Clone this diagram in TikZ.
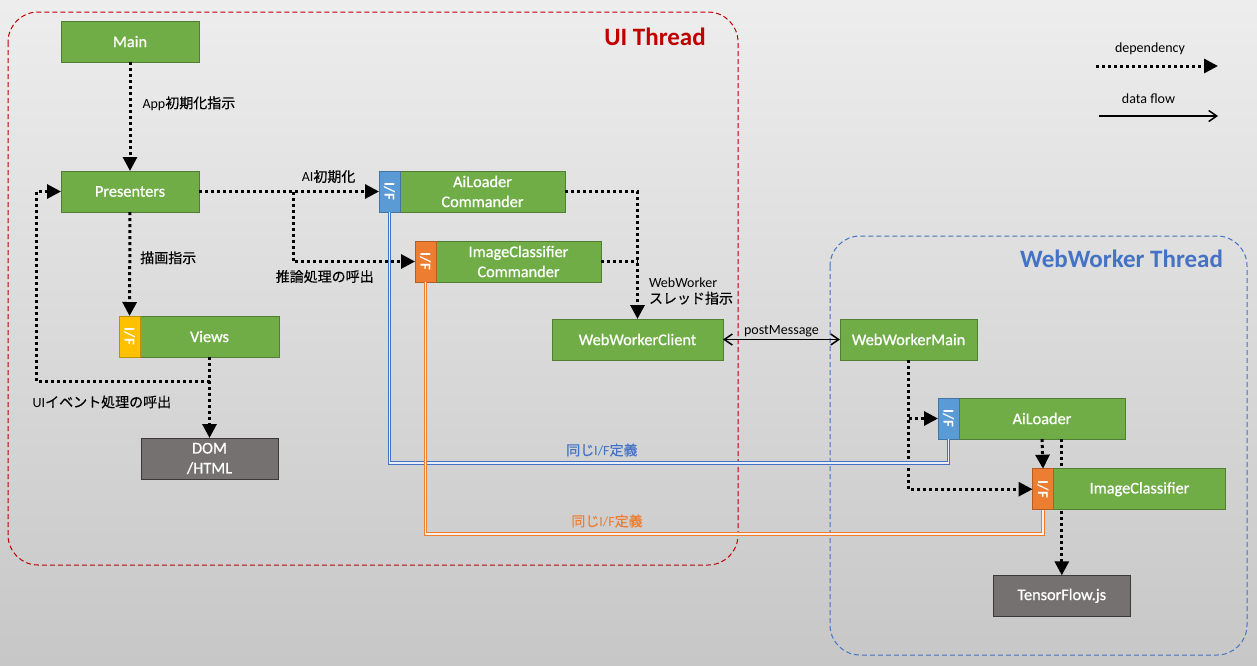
\documentclass[tikz,border=0pt]{standalone}
\usepackage{fontspec}
\usepackage{graphicx}
\setmainfont{Carlito}
\newfontfamily\jpfont[FakeBold=0.4]{Noto Sans CJK JP}
\newfontfamily\boxfont[FakeBold=0.8]{Carlito}
\newcommand{\ja}[1]{{\jpfont #1}}
\usetikzlibrary{arrows.meta,positioning}
\definecolor{compgreen}{HTML}{70AD47}
\definecolor{compedge}{HTML}{507E32}
\definecolor{libgray}{HTML}{767171}
\definecolor{libedge}{HTML}{3A3838}
\definecolor{ifblue}{HTML}{5B9BD5}
\definecolor{iforange}{HTML}{ED7D31}
\definecolor{ifyellow}{HTML}{FFC000}
\definecolor{uired}{HTML}{C00000}
\definecolor{wwblue}{HTML}{4472C4}
\tikzset{
	comp/.style={draw=compedge,fill=compgreen,text=white,line width=1pt,outer sep=0pt,minimum height=41pt,inner sep=0pt,align=center,font=\boxfont\fontsize{16.3}{20}\selectfont},
	lib/.style={comp,draw=libedge,fill=libgray},
	iface/.style={draw=#1!75!black,fill=#1,text=white,line width=1pt,outer sep=0pt,minimum width=21pt,minimum height=41pt,inner sep=0pt,font=\bfseries\fontsize{15}{15}\selectfont},
	dep/.style={line width=3pt,dash pattern=on 3pt off 3pt,-{Triangle[length=14pt,width=14pt]}},
	depline/.style={line width=3pt,dash pattern=on 3pt off 3pt},
	flowtip/.tip={Straight Barb[length=8pt,width=11pt]},
	flow/.style={line width=1.5pt,-flowtip},
	samedef/.style={draw=#1,line width=1pt,double=#1!12,double distance=1.5pt},
	lbl/.style={font=\fontsize{14}{16.5}\selectfont,inner sep=2pt},
	thread/.style={line width=1pt,dash pattern=on 5pt off 3pt,rounded corners=30pt},
	threadtitle/.style={font=\bfseries\fontsize{25}{28}\selectfont}
}
\begin{document}
\begin{tikzpicture}[x=1pt,y=-1pt]
	\useasboundingbox (0,0) rectangle (1257,665);
	\fill[top color=black!7,bottom color=black!22] (0,0) rectangle (1257,665);
	\draw[thread,draw=uired] (8,12) rectangle (738,565);
	\draw[thread,draw=wwblue] (830,236) rectangle (1247,655);
	\node[threadtitle,text=uired] (uititle) at (655,37) {UI Thread};
	\node[threadtitle,text=wwblue] (wwtitle) at (1121.5,259) {WebWorker Thread};
	% UI thread
	\node[comp,minimum width=138pt] (main) at (130,41.5) {Main};
	\node[comp,minimum width=138pt] (pres) at (130,191.5) {Presenters};
	\node[comp,minimum width=139pt] (views) at (209.5,336.5) {Views};
	\node[iface=ifyellow,left=0pt of views] (viewsif) {\rotatebox{-90}{I/F}};
	\node[lib,minimum width=137pt] (dom) at (209.5,458.5) {DOM\\/HTML};
	\node[comp,minimum width=165pt] (ailc) at (482.5,191.5) {AiLoader\\Commander};
	\node[iface=ifblue,left=0pt of ailc] (ailcif) {\rotatebox{-90}{I/F}};
	\node[comp,minimum width=165pt] (iclc) at (518.5,261.5) {ImageClassifier\\Commander};
	\node[iface=iforange,left=0pt of iclc] (iclcif) {\rotatebox{-90}{I/F}};
	\node[comp,minimum width=171pt] (wwc) at (637.5,339.5) {WebWorkerClient};
	% WebWorker thread
	\node[comp,minimum width=137pt] (wwm) at (908.5,339.5) {WebWorkerMain};
	\node[comp,minimum width=166pt] (ail) at (1042,418.5) {AiLoader};
	\node[iface=ifblue,left=0pt of ail] (ailif) {\rotatebox{-90}{I/F}};
	\node[lib,minimum width=137pt] (tf) at (1061.8,595.8) {TensorFlow.js};
	\draw[dep] (ail.south -| tf.north) -- (tf.north);
	\node[comp,minimum width=172pt] (icl) at (1139.5,489.2) {ImageClassifier};
	\node[iface=iforange,left=0pt of icl] (iclif) {\rotatebox{-90}{I/F}};
	% dependencies
	\draw[dep] (main) -- node[lbl,right=9pt,pos=.38] {App\ja{初期化指示}} (pres);
	\draw[dep] (pres) -- node[lbl,above=5pt,pos=.72] {AI\ja{初期化}} (ailcif);
	\coordinate (infer) at (293,191.5);
	\draw[dep] (infer) |- node[lbl,below=5pt,pos=.63] {\ja{推論処理の呼出}} (iclcif);
	\draw[dep] (pres) -- node[lbl,right=7pt,pos=.44] {\ja{描画指示}} (viewsif);
	\draw[dep] (views) -- (dom);
	\coordinate (uievt) at (209.5,381);
	\draw[dep] (uievt) -| node[lbl,below=11pt,pos=.31] {UI\ja{イベント処理の呼出}} ([xshift=-25pt]pres.west) -- (pres);
	\draw[dep] (ailc) -| node[lbl,right=8pt,pos=.89,align=left] {WebWorker\\\ja{スレッド指示}} (wwc);
	\draw[depline] (iclc) -- (iclc -| wwc);
	\draw[flow,flowtip-flowtip] (wwc) -- node[lbl,above] {postMessage} (wwm);
	\coordinate (wwload) at (wwm.south |- ailif);
	\draw[dep] (wwm) |- (iclif);
	\draw[dep] (wwload) -- (ailif);
	\draw[dep] (ail.south) -- (iclif.north);
	% same interface
	\coordinate (bluebase) at (0,463);
	\coordinate (orangebase) at (0,534);
	\draw[samedef=wwblue] (ailcif.south) |- node[lbl,above=4pt,pos=.69,text=wwblue] {\ja{同じ}I/F\ja{定義}} (ailif.south |- bluebase) -- (ailif.south);
	\draw[samedef=iforange] (iclcif.south) |- node[lbl,above=4pt,pos=.647,text=iforange] {\ja{同じ}I/F\ja{定義}} (iclif.south |- orangebase) -- (iclif.south);
	% legend
	\coordinate (depa) at (1096,66);
	\coordinate (depb) at (1218,66);
	\coordinate (flowa) at (1099,116);
	\coordinate (flowb) at (1218,116);
	\draw[dep] (depa) -- node[lbl,above=8pt,xshift=-7pt] {dependency} (depb);
	\draw[flow] (flowa) -- node[lbl,above=10pt,xshift=-10pt] {data flow} (flowb);
\end{tikzpicture}
\end{document}
